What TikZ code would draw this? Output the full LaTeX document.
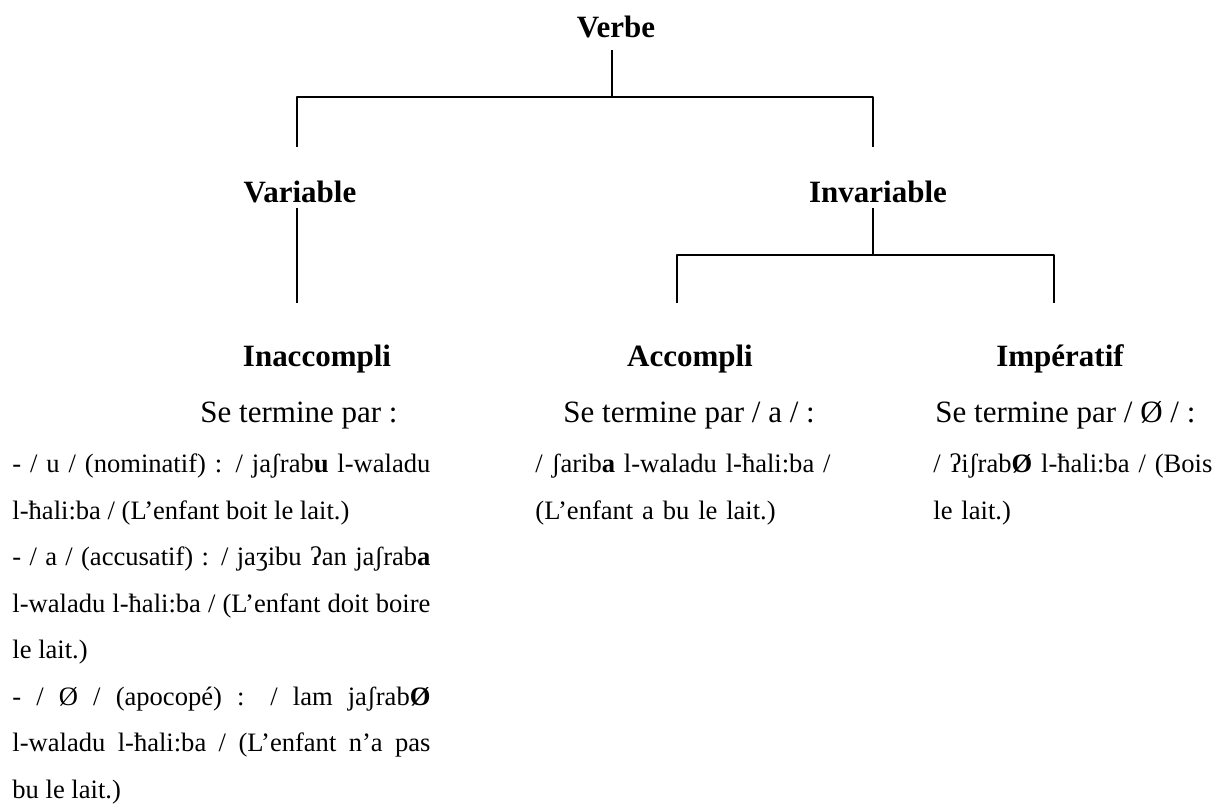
\documentclass[tikz,border=0pt]{standalone}
\usepackage{fontspec}
\setmainfont{Liberation Serif}
\hyphenpenalty=10000
\exhyphenpenalty=10000
\begin{document}
\begin{tikzpicture}[line join=bevel,inner sep=0pt,
  title/.style={anchor=base,font=\fontsize{14}{16}\selectfont\bfseries},
  head/.style={anchor=base west,font=\fontsize{14}{16}\selectfont},
  body/.style={anchor=base west,font=\fontsize{12}{21}\selectfont},
  link/.style={black,line width=0.7pt}]
%%
\useasboundingbox (0bp,0bp) rectangle (546.3bp,361.35bp);
\node (node_verbe) at (277.2bp,344.25bp) [title] {Verbe};
  \node (node_var) at (135.0bp,270.0bp) [title] {Variable};
  \node (node_inv) at (395.1bp,270.0bp) [title] {Invariable};
  \node (node_inacc) at (142.65bp,196.2bp) [title] {Inaccompli};
  \node (node_acc) at (310.5bp,196.2bp) [title] {Accompli};
  \node (node_imp) at (477.0bp,196.2bp) [title] {Impératif};
  \node (head_inacc) at (90.0bp,171.0bp) [head] {Se termine par :};
  \node (head_acc) at (253.35bp,171.0bp) [head] {Se termine par / a / :};
  \node (head_imp) at (420.75bp,171.0bp) [head] {Se termine par / Ø / :};
  \node (text_inacc) at (5.4bp,148.5bp) [body,text width=188.1bp,align=justify]
    {- / u / (nominatif) : / jaʃrab\textbf{u} l-waladu\linebreak
     l-ħali:ba / (L’enfant boit le lait.)\par
     - / a / (accusatif) : / jaʒibu ʔan jaʃrab\textbf{a}\linebreak
     l-waladu l-ħali:ba / (L’enfant doit boire\linebreak
     le lait.)\par
     - / Ø / (apocopé) : / lam jaʃrab\textbf{Ø}\linebreak
     l-waladu l-ħali:ba / (L’enfant n’a pas\linebreak
     bu le lait.)};
  \node (text_acc) at (240.75bp,148.5bp) [body,text width=150bp,align=left]
    {/ ʃarib\textbf{a} l-waladu l-ħali:ba /\\ (L’enfant a bu le lait.)};
  \node (text_imp) at (419.85bp,148.5bp) [body,text width=150bp,align=left]
    {/ ʔiʃrab\textbf{Ø} l-ħali:ba / (Bois\\ le lait.)};
%%
\coordinate (c_verbe) at (275.4bp,338.85bp);
  \coordinate (c_top) at (275.4bp,317.7bp);
  \coordinate (c_var_top) at (133.65bp,317.7bp);
  \coordinate (c_var_end) at (133.65bp,295.2bp);
  \coordinate (c_inv_top) at (392.85bp,317.7bp);
  \coordinate (c_inv_end) at (392.85bp,295.2bp);
  \coordinate (c_var) at (133.65bp,267.75bp);
  \coordinate (c_var_low) at (133.65bp,225.0bp);
  \coordinate (c_inv) at (392.85bp,267.75bp);
  \coordinate (c_mid) at (392.85bp,246.6bp);
  \coordinate (c_acc_top) at (304.65bp,246.6bp);
  \coordinate (c_acc_end) at (304.65bp,225.0bp);
  \coordinate (c_imp_top) at (474.3bp,246.6bp);
  \coordinate (c_imp_end) at (474.3bp,225.0bp);
%
\draw [link] (c_verbe) -- (c_top);
  \draw [link] (c_var_end) -- (c_var_top) -- (c_inv_top) -- (c_inv_end);
  \draw [link] (c_var) -- (c_var_low);
  \draw [link] (c_inv) -- (c_mid);
  \draw [link] (c_acc_end) -- (c_acc_top) -- (c_imp_top) -- (c_imp_end);
%
\end{tikzpicture}
\end{document}
